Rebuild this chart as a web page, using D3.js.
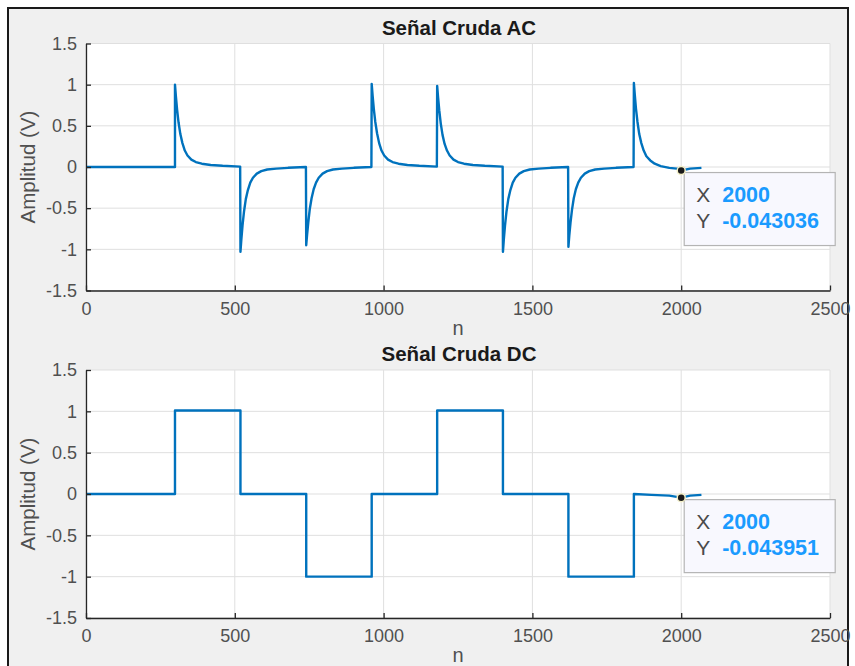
<!DOCTYPE html>
<html>
<head>
<meta charset="utf-8">
<script src="https://cdn.jsdelivr.net/npm/d3@7"></script>
<style>
  body { margin: 0; background: #ffffff; }
  text { font-family: "Liberation Sans", Arial, Helvetica, sans-serif; }
</style>
</head>
<body>
<svg id="fig" width="855" height="666"></svg>
<script>
// ---- axis ticks ----
const xTicks = [0, 500, 1000, 1500, 2000, 2500];
const xTickLabels = ["0", "500", "1000", "1500", "2000", "2500"];
const yTicks = [-1.5, -1, -0.5, 0, 0.5, 1, 1.5];
const yTickLabels = ["-1.5", "-1", "-0.5", "0", "0.5", "1", "1.5"];

// ---- DC square wave: switching samples and level of each stretch ----
const dcEdges = [299, 519, 740, 960, 1180, 1401, 1621, 1841];
const dcLevels = [0, 1.01, 0, -1.0, 0, 1.01, 0, -1.0, 0];
const dcTail = [[1900, -0.01], [1960, -0.02], [2030, -0.02], [2068, -0.01]];

// ---- AC signal: sample [n, amplitude] pairs around each transient ----
const acLead = [[0, 0.0], [299, 0.0]];
const acSpike1 = [[299, 1.00], [302, 0.86], [306, 0.70], [311, 0.54], [317, 0.40], [324, 0.29], [332, 0.20],
                  [341, 0.14], [354, 0.09], [369, 0.06], [389, 0.04], [419, 0.025], [459, 0.015], [518, 0.005]];
const acSpike2 = [[519, -1.03], [522, -0.88], [526, -0.71], [531, -0.54], [537, -0.39], [544, -0.28], [552, -0.19],
                  [561, -0.13], [574, -0.08], [589, -0.05], [609, -0.03], [639, -0.02], [679, -0.01], [739, 0.0]];
const acSpike3 = [[740, -0.95], [743, -0.82], [747, -0.67], [752, -0.51], [758, -0.38], [765, -0.27], [773, -0.19],
                  [782, -0.13], [795, -0.08], [810, -0.05], [830, -0.03], [860, -0.02], [900, -0.01], [959, 0.0]];
const acSpike4 = [[960, 1.01], [963, 0.87], [967, 0.71], [972, 0.55], [978, 0.41], [985, 0.29], [993, 0.20],
                  [1002, 0.14], [1015, 0.09], [1030, 0.06], [1050, 0.04], [1080, 0.025], [1120, 0.015], [1179, 0.005]];
const acSpike5 = [[1180, 0.985], [1183, 0.85], [1187, 0.69], [1192, 0.53], [1198, 0.39], [1205, 0.28], [1213, 0.20],
                  [1222, 0.14], [1235, 0.09], [1250, 0.06], [1270, 0.04], [1300, 0.025], [1340, 0.015], [1400, 0.005]];
const acSpike6 = [[1401, -1.03], [1404, -0.88], [1408, -0.71], [1413, -0.54], [1419, -0.39], [1426, -0.28], [1434, -0.19],
                  [1443, -0.13], [1456, -0.08], [1471, -0.05], [1491, -0.03], [1521, -0.02], [1561, -0.01], [1620, 0.0]];
const acSpike7 = [[1621, -0.97], [1624, -0.83], [1628, -0.68], [1633, -0.52], [1639, -0.38], [1646, -0.27], [1654, -0.19],
                  [1663, -0.13], [1676, -0.08], [1691, -0.05], [1711, -0.03], [1741, -0.02], [1781, -0.01], [1840, 0.0]];
const acSpike8 = [[1841, 1.02], [1844, 0.88], [1848, 0.71], [1853, 0.55], [1859, 0.40], [1866, 0.29], [1874, 0.20],
                  [1883, 0.13], [1896, 0.08], [1911, 0.04], [1931, 0.01], [1960, -0.01], [1985, -0.02]];
const acTail = [[2030, -0.02], [2068, -0.01]];

// ---- data tips ----
const tipN = [2000, 2000];
const tipV = [-0.043036, -0.043951];
const tipLabels = ["-0.043036", "-0.043951"];

// ---- assemble series ----
const acData = [].concat(acLead, acSpike1, acSpike2, acSpike3, acSpike4,
                         acSpike5, acSpike6, acSpike7, acSpike8,
                         [[tipN[0], tipV[0]]], acTail);

const dcData = [[0, dcLevels[0]]];
dcEdges.forEach((e, i) => {
  dcData.push([e, dcLevels[i]]);
  dcData.push([e, dcLevels[i + 1]]);
});
dcData.push(dcTail[0], dcTail[1], [tipN[1], tipV[1]], dcTail[2], dcTail[3]);

// ---- figure ----
const svg = d3.select("#fig");
svg.append("rect").attr("x", 8).attr("y", 8).attr("width", 840).attr("height", 668)
  .attr("fill", "#f0f0f0").attr("stroke", "#1a1a1a").attr("stroke-width", 2);

const lineColor = "#0072BD";
const panels = [
  { title: "Señal Cruda AC", data: acData, top: 43.5, bottom: 290.5, tip: 0 },
  { title: "Señal Cruda DC", data: dcData, top: 370, bottom: 618, tip: 1 }
];
const left = 86, right = 830;

panels.forEach(p => {
  const g = svg.append("g");
  const x = d3.scaleLinear().domain([0, 2500]).range([left, right]);
  const y = d3.scaleLinear().domain([-1.5, 1.5]).range([p.bottom, p.top]);

  g.append("rect").attr("x", left).attr("y", p.top)
    .attr("width", right - left).attr("height", p.bottom - p.top).attr("fill", "#ffffff");

  // grid
  g.append("g").selectAll("line").data(xTicks).join("line")
    .attr("x1", d => x(d)).attr("x2", d => x(d))
    .attr("y1", p.top).attr("y2", p.bottom)
    .attr("stroke", "#dfdfdf").attr("stroke-width", 1);
  g.append("g").selectAll("line").data(yTicks).join("line")
    .attr("x1", left).attr("x2", right)
    .attr("y1", d => y(d)).attr("y2", d => y(d))
    .attr("stroke", "#dfdfdf").attr("stroke-width", 1);

  // signal
  const line = d3.line().x(d => x(d[0])).y(d => y(d[1]));
  g.append("path").datum(p.data).attr("d", line)
    .attr("fill", "none").attr("stroke", lineColor).attr("stroke-width", 2.4)
    .attr("stroke-linejoin", "round");

  // axes
  const ax = g.append("g").attr("transform", `translate(0,${p.bottom})`)
    .call(d3.axisBottom(x).tickValues(xTicks).tickFormat((d, i) => xTickLabels[i])
      .tickSizeInner(-5).tickSizeOuter(0).tickPadding(11.5));
  const ay = g.append("g").attr("transform", `translate(${left},0)`)
    .call(d3.axisLeft(y).tickValues(yTicks).tickFormat((d, i) => yTickLabels[i])
      .tickSizeInner(-5).tickSizeOuter(0).tickPadding(9));
  [ax, ay].forEach(a => {
    a.select(".domain").attr("stroke", "#262626").attr("stroke-width", 1.3);
    a.selectAll(".tick line").attr("stroke", "#262626").attr("stroke-width", 1.3);
    a.selectAll(".tick text").attr("fill", "#505050").style("font-size", "18px")
      .style("font-family", '"Liberation Sans", Arial, sans-serif');
  });

  // title and labels
  g.append("text").attr("x", (left + right) / 2 + 1).attr("y", p.top - 9)
    .attr("text-anchor", "middle").attr("font-weight", "bold").attr("font-size", 20.5)
    .attr("fill", "#1a1a1a").text(p.title);
  g.append("text").attr("x", (left + right) / 2).attr("y", p.bottom + 44)
    .attr("text-anchor", "middle").attr("font-size", 20).attr("fill", "#505050").text("n");
  g.append("text")
    .attr("transform", `translate(35,${(p.top + p.bottom) / 2}) rotate(-90)`)
    .attr("text-anchor", "middle").attr("font-size", 20.5).attr("fill", "#505050").text("Amplitud (V)");

  // data tip
  const tx = x(tipN[p.tip]), ty = y(tipV[p.tip]);
  const bx = tx + 3, by = ty + 2;
  g.append("rect").attr("x", bx).attr("y", by).attr("width", 151).attr("height", 73)
    .attr("fill", "#f8f8fe").attr("stroke", "#b4b4b4").attr("stroke-width", 1.2);
  g.append("circle").attr("cx", tx).attr("cy", ty).attr("r", 4)
    .attr("fill", "#1a1a1a").attr("stroke", "#f4f0c8").attr("stroke-width", 1.5);
  const rows = [["X", xTickLabels[4]], ["Y", tipLabels[p.tip]]];
  rows.forEach((r, i) => {
    const base = by + 29 + i * 26.5;
    g.append("text").attr("x", bx + 12).attr("y", base).attr("font-size", 21)
      .attr("fill", "#4a4a4a").text(r[0]);
    g.append("text").attr("x", bx + 38).attr("y", base).attr("font-size", 21.5)
      .attr("font-weight", "bold").attr("fill", "#1a9bff").text(r[1]);
  });
});
</script>
</body>
</html>
